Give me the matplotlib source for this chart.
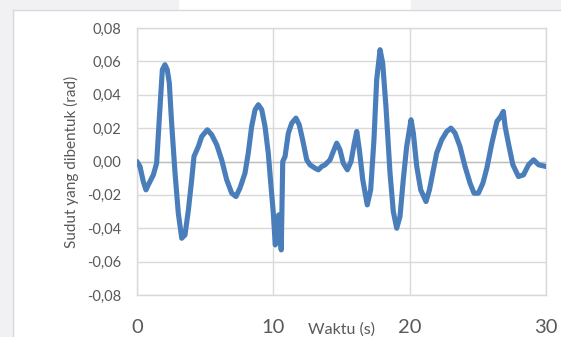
import matplotlib
matplotlib.use("Agg")
import matplotlib.pyplot as plt
from matplotlib.patches import Rectangle
from matplotlib.lines import Line2D

# ---- data ----
waktu = [0.00, 0.22, 0.46, 0.66, 0.83, 1.20, 1.44, 1.69, 1.86, 2.05, 2.22, 2.37, 2.54, 2.79,
         3.03, 3.28, 3.52, 3.77, 4.01, 4.18, 4.50, 4.75, 5.16, 5.48, 5.85, 6.21, 6.58, 6.95,
         7.26, 7.55, 7.92, 8.16, 8.41, 8.66, 8.90, 9.15, 9.39, 9.63, 9.80, 10.00, 10.14, 10.27,
         10.39, 10.58, 10.69, 10.86, 11.10, 11.35, 11.66, 11.90, 12.15, 12.45, 12.69, 13.06,
         13.30, 13.55, 13.79, 14.16, 14.40, 14.65, 14.89, 15.13, 15.43, 15.70, 15.94, 16.12,
         16.31, 16.56, 16.89, 17.14, 17.38, 17.58, 17.83, 18.02, 18.26, 18.56, 18.80, 19.05,
         19.29, 19.53, 19.78, 20.10, 20.27, 20.52, 20.81, 21.20, 21.45, 21.74, 21.98, 22.35,
         22.72, 23.03, 23.33, 23.69, 24.06, 24.43, 24.72, 25.04, 25.37, 25.66, 26.03, 26.40,
         26.68, 26.87, 27.00, 27.24, 27.57, 27.98, 28.35, 28.72, 29.09, 29.46, 30.00]
sudut = [0.000, -0.003, -0.012, -0.017, -0.014, -0.008, -0.001, 0.033, 0.055, 0.058, 0.055,
         0.047, 0.023, -0.007, -0.031, -0.046, -0.044, -0.029, -0.011, 0.003, 0.009, 0.015,
         0.019, 0.016, 0.010, 0.001, -0.011, -0.019, -0.021, -0.016, -0.007, 0.005, 0.021,
         0.031, 0.034, 0.031, 0.021, 0.005, -0.012, -0.031, -0.050, -0.046, -0.032, -0.053,
         0.000, 0.003, 0.017, 0.023, 0.026, 0.022, 0.013, 0.001, -0.002, -0.004, -0.005,
         -0.003, -0.002, 0.001, 0.006, 0.011, 0.007, -0.001, -0.005, 0.000, 0.011, 0.018,
         0.007, -0.011, -0.026, -0.017, 0.013, 0.049, 0.067, 0.059, 0.033, -0.007, -0.030,
         -0.040, -0.033, -0.011, 0.009, 0.025, 0.017, -0.003, -0.017, -0.024, -0.017, -0.005,
         0.005, 0.013, 0.018, 0.020, 0.017, 0.009, -0.003, -0.013, -0.019, -0.019, -0.013,
         -0.004, 0.011, 0.024, 0.027, 0.030, 0.021, 0.011, -0.002, -0.009, -0.008, -0.002,
         0.001, -0.002, -0.003]

x_ticks = [0, 10, 20, 30]
y_ticks = [-0.08, -0.06, -0.04, -0.02, 0.00, 0.02, 0.04, 0.06, 0.08]
y_ticklabels = ["-0,08", "-0,06", "-0,04", "-0,02", "0,00", "0,02", "0,04", "0,06", "0,08"]
x_label = "Waktu (s)"
y_label = "Sudut yang dibentuk (rad)"

plt.rcParams['font.family'] = ['Lato', 'DejaVu Sans']

W, H = 561, 337
fig = plt.figure(figsize=(W / 100, H / 100), dpi=100)
fig.patch.set_facecolor('white')

# screenshot surroundings (light gray strips) and chart-area border
bg = '#f1f1f3'
fig.patches.append(Rectangle((0, 0), 13 / W, 1, transform=fig.transFigure, color=bg, zorder=0))
fig.patches.append(Rectangle((0, 1 - 10 / H), 178 / W, 10 / H, transform=fig.transFigure, color=bg, zorder=0))
fig.patches.append(Rectangle((411 / W, 1 - 10 / H), 150 / W, 10 / H, transform=fig.transFigure, color=bg, zorder=0))
fig.lines.append(Line2D([13 / W, 13 / W], [0, 1 - 10 / H], transform=fig.transFigure, color='#d9d9d9', lw=1))
fig.lines.append(Line2D([13 / W, 1], [1 - 10 / H, 1 - 10 / H], transform=fig.transFigure, color='#d9d9d9', lw=1))

left, right, top, bottom = 137, 546, 28, 295
ax = fig.add_axes([left / W, 1 - bottom / H, (right - left) / W, (bottom - top) / H])
ax.set_facecolor('white')

ax.plot(waktu, sudut, color='#4a7ebb', lw=3.7, solid_joinstyle='round', solid_capstyle='round', zorder=3)

ax.set_xlim(0, 30)
ax.set_ylim(-0.08, 0.08)
ax.set_xticks(x_ticks)
ax.set_yticks(y_ticks)
ax.set_yticklabels(y_ticklabels)
ax.grid(True, color='#d9d9d9', lw=1.0)
ax.axhline(0, color='#bfbfbf', lw=1.0, zorder=2)
for s in ax.spines.values():
    s.set_color('#d9d9d9')
    s.set_linewidth(1.0)
ax.tick_params(axis='both', length=0)
ax.tick_params(axis='y', pad=11, labelsize=10.5, labelcolor='#595959')
ax.tick_params(axis='x', pad=17, labelsize=14.5, labelcolor='#595959')

fig.text(341 / W, 1 - 330 / H, x_label, ha='center', va='center', fontsize=11.5, color='#595959')
fig.text(71 / W, 1 - 162 / H, y_label, ha='center', va='center', rotation=90, fontsize=11, color='#595959')

fig.savefig('out.png', dpi=100)
